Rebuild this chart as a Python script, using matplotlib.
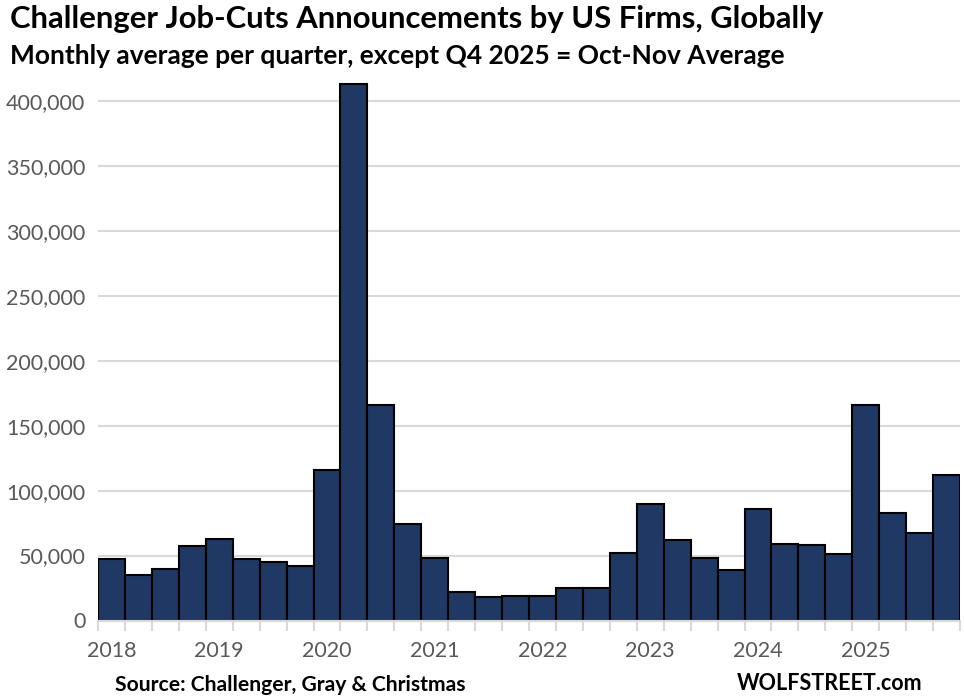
import matplotlib.pyplot as plt
from matplotlib.ticker import FuncFormatter, FixedLocator
import numpy as np

years = ['2018', '2019', '2020', '2021', '2022', '2023', '2024', '2025']
quarters = ['Q1', 'Q2', 'Q3', 'Q4']

# monthly average job cuts per quarter, 2018 Q1 .. 2025 Q4
job_cuts = [47000, 35000, 40000, 57000,
            63000, 47000, 45000, 42000,
            115600, 413000, 165700, 74000,
            48000, 22000, 18000, 18500,
            18500, 25000, 25000, 52000,
            90000, 62000, 48500, 38500,
            85500, 59000, 58000, 51000,
            166000, 83000, 67000, 112000]

title = "Challenger Job-Cuts Announcements by US Firms, Globally"
subtitle = "Monthly average per quarter, except Q4 2025 = Oct-Nov Average"

plt.rcParams['font.family'] = ['Lato', 'DejaVu Sans']

fig = plt.figure(figsize=(9.64, 6.98), dpi=100)
ax = fig.add_axes([98/964, 77.5/698, 862/964, 420*1.2988/698])

x = np.arange(len(job_cuts))
ax.bar(x, job_cuts, width=1.0, color='#203864', edgecolor='black', linewidth=1.5, zorder=3)

ax.set_xlim(-0.5, len(job_cuts) - 0.5)
ax.set_ylim(0, 420000)
ax.set_yticks(np.arange(0, 400001, 50000))
ax.yaxis.set_major_formatter(FuncFormatter(lambda v, p: f"{int(v):,}"))
ax.grid(axis='y', color='#d9d9d9', linewidth=1.5, zorder=0)

# year labels under first quarter, small ticks at every category boundary
ax.set_xticks(np.arange(0, len(job_cuts), 4))
ax.set_xticklabels(years)
ax.xaxis.set_minor_locator(FixedLocator(np.arange(-0.5, len(job_cuts), 1)))
ax.tick_params(axis='x', which='major', length=0, pad=15, labelsize=15.5, labelcolor='#595959')
ax.tick_params(axis='x', which='minor', length=7, width=1.5, color='#d9d9d9')
ax.tick_params(axis='y', length=0, pad=9, labelsize=15.5, labelcolor='#595959')

for s in ['top', 'right', 'left']:
    ax.spines[s].set_visible(False)
ax.spines['bottom'].set_color('#d9d9d9')
ax.spines['bottom'].set_linewidth(1.5)
ax.spines['bottom'].set_zorder(4)

fig.text(10/964, 1 - 19/698, title, fontsize=22.3, fontweight='bold', va='center', ha='left')
fig.text(10/964, 1 - 56/698, subtitle, fontsize=19, fontweight='bold', va='center', ha='left')
fig.text(115/964, 1 - 685/698, "Source: Challenger, Gray & Christmas", fontsize=15.2, fontweight='bold',
         va='center', ha='left')
fig.text(737/964, 1 - 684/698, "WOLFSTREET.com", fontsize=15.5, fontweight='bold',
         va='center', ha='left')

fig.savefig('out.png', dpi=100)
